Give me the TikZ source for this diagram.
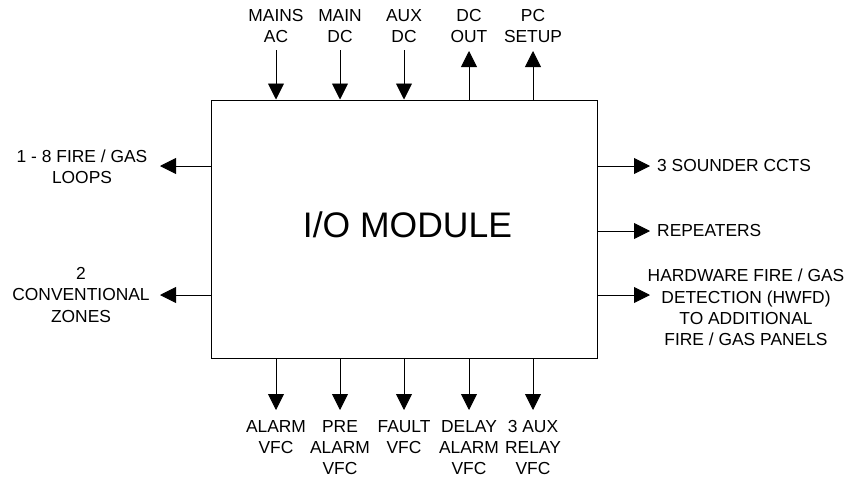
\documentclass[tikz,border=0pt]{standalone}
\usepackage{fontspec}
\setmainfont{Liberation Sans}
\usetikzlibrary{arrows.meta}
\begin{document}
\begin{tikzpicture}[x=1pt,y=-1pt,
  lbl/.style={inner sep=0pt,align=center,font=\fontsize{17.4}{21.3}\selectfont},
  arr/.style={line width=0.9pt,-{Triangle[length=16pt,width=16pt]}},
  boxst/.style={draw,line width=1pt,inner sep=0pt,minimum width=386pt,minimum height=258pt}]
\useasboundingbox (0,0) rectangle (854,477);
\node[boxst] (io) at (404,229) {};
\node[inner sep=0pt,font=\fontsize{35.5}{40}\selectfont] (iotext) at (407.5,224.5) {I/O MODULE};
% top
\node[lbl] (t1) at (276,26) {MAINS\\AC};
\node[lbl] (t2) at (340,26) {MAIN\\DC};
\node[lbl] (t3) at (404,26) {AUX\\DC};
\node[lbl] (t4) at (469,26) {DC\\OUT};
\node[lbl] (t5) at (533,26) {PC\\SETUP};
\coordinate (ct1) at (276,50);
\coordinate (ct2) at (340,50);
\coordinate (ct3) at (404,50);
\coordinate (ct4) at (469,51);
\coordinate (ct5) at (533,51);
\draw[arr] (ct1) -- (ct1 |- io.north);
\draw[arr] (ct2) -- (ct2 |- io.north);
\draw[arr] (ct3) -- (ct3 |- io.north);
\draw[arr] (ct4 |- io.north) -- (ct4);
\draw[arr] (ct5 |- io.north) -- (ct5);
% bottom
\coordinate (cb1) at (276,410);
\coordinate (cb2) at (340,410);
\coordinate (cb3) at (404,410);
\coordinate (cb4) at (469,410);
\coordinate (cb5) at (533,410);
\draw[arr] (cb1 |- io.south) -- (cb1);
\draw[arr] (cb2 |- io.south) -- (cb2);
\draw[arr] (cb3 |- io.south) -- (cb3);
\draw[arr] (cb4 |- io.south) -- (cb4);
\draw[arr] (cb5 |- io.south) -- (cb5);
\node[lbl,anchor=north] (b1) at (276,420) {ALARM\\VFC};
\node[lbl,anchor=north] (b2) at (340,420) {PRE\\ALARM\\VFC};
\node[lbl,anchor=north] (b3) at (404,420) {FAULT\\VFC};
\node[lbl,anchor=north] (b4) at (469,420) {DELAY\\ALARM\\VFC};
\node[lbl,anchor=north] (b5) at (533,420) {3 AUX\\RELAY\\VFC};
% left
\coordinate (cl1) at (160,166);
\coordinate (cl2) at (160,295);
\draw[arr] (io.west |- cl1) -- (cl1);
\draw[arr] (io.west |- cl2) -- (cl2);
\node[lbl] (l1) at (82,167) {1 - 8 FIRE / GAS\\LOOPS};
\node[lbl] (l2) at (81,295) {2\\CONVENTIONAL\\ZONES};
% right
\coordinate (cr1) at (650,166);
\coordinate (cr2) at (650,231);
\coordinate (cr3) at (650,295);
\draw[arr] (io.east |- cr1) -- (cr1);
\draw[arr] (io.east |- cr2) -- (cr2);
\draw[arr] (io.east |- cr3) -- (cr3);
\node[lbl,anchor=west] (r1) at (657,166) {3 SOUNDER CCTS};
\node[lbl,anchor=west] (r2) at (657,231) {REPEATERS};
\node[lbl] (r3) at (746,307.5) {HARDWARE FIRE / GAS\\DETECTION (HWFD)\\TO ADDITIONAL\\FIRE / GAS PANELS};
\end{tikzpicture}
\end{document}
